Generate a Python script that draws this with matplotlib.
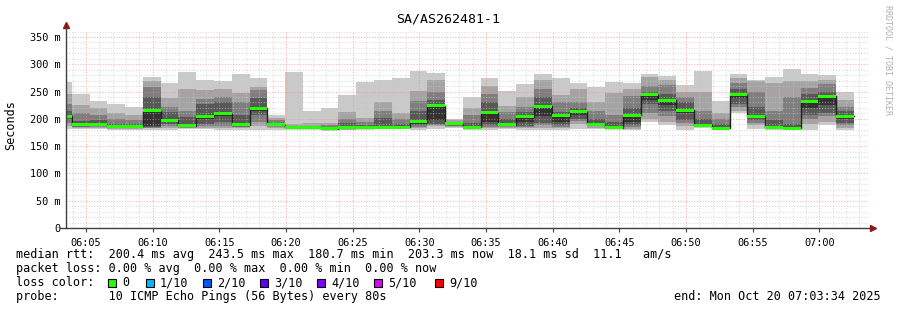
import matplotlib
matplotlib.use('Agg')
import matplotlib.pyplot as plt
import matplotlib.ticker as ticker
from matplotlib.patches import Rectangle
import numpy as np

# smokeping detail graph, 10 pings every 80 s
first_start = 2.6          # minutes after 06:00 of the first (clipped) interval
step = 80 / 60.0
median = [205, 189, 189, 186, 186, 215, 197, 187, 205, 209, 189, 219, 189, 184, 184,
          182, 184, 184, 185, 185, 195, 224, 191, 185, 211, 189, 204, 223, 206, 213,
          190, 184, 207, 244, 234, 216, 188, 183, 244, 205, 185, 183, 231, 241, 205]
pings = [
    [182, 186, 192, 200, 203, 207, 215, 228, 245, 268],
    [181, 183, 185, 187, 189, 190, 196, 211, 225, 246],
    [182, 184, 186, 188, 189, 190, 197, 207, 219, 232],
    [180, 182, 184, 185, 185, 186, 190, 200, 211, 228],
    [180, 182, 184, 185, 185, 186, 191, 198, 207, 222],
    [179, 183, 184, 185, 186, 215, 240, 258, 269, 277],
    [180, 184, 186, 190, 196, 199, 213, 221, 239, 266],
    [181, 183, 185, 186, 187, 190, 203, 215, 255, 285],
    [182, 184, 186, 190, 200, 207, 228, 236, 253, 271],
    [179, 183, 187, 195, 205, 212, 231, 240, 254, 270],
    [180, 183, 185, 187, 189, 191, 207, 230, 247, 282],
    [179, 186, 195, 207, 215, 220, 238, 252, 259, 274],
    [180, 183, 186, 188, 189, 190, 193, 198, 202, 207],
    [181, 182, 183, 183, 184, 184, 185, 186, 190, 285],
    [181, 182, 183, 183, 184, 184, 185, 187, 192, 214],
    [179, 180, 181, 181, 182, 182, 184, 188, 193, 219],
    [180, 181, 182, 183, 184, 185, 192, 200, 213, 244],
    [181, 182, 183, 184, 184, 185, 188, 195, 202, 268],
    [181, 182, 183, 184, 185, 186, 202, 214, 230, 271],
    [181, 182, 183, 184, 184, 185, 190, 200, 210, 274],
    [180, 183, 185, 188, 190, 196, 215, 232, 251, 288],
    [182, 186, 189, 191, 197, 224, 235, 249, 271, 284],
    [183, 185, 187, 188, 190, 191, 193, 195, 197, 200],
    [180, 182, 183, 184, 184, 185, 192, 207, 220, 240],
    [180, 183, 185, 188, 195, 211, 231, 246, 260, 275],
    [182, 184, 186, 187, 188, 190, 200, 212, 224, 251],
    [180, 183, 185, 187, 195, 205, 213, 222, 240, 263],
    [180, 184, 188, 192, 205, 223, 240, 255, 271, 282],
    [180, 183, 185, 188, 195, 207, 213, 231, 243, 275],
    [182, 190, 196, 200, 207, 213, 220, 230, 255, 265],
    [182, 184, 186, 188, 189, 191, 200, 215, 230, 258],
    [181, 182, 183, 184, 184, 185, 195, 207, 247, 268],
    [179, 182, 185, 188, 195, 207, 220, 241, 254, 266],
    [194, 200, 210, 228, 235, 244, 250, 260, 276, 282],
    [189, 195, 205, 215, 225, 234, 245, 262, 272, 279],
    [180, 186, 192, 197, 210, 217, 231, 240, 250, 262],
    [183, 185, 186, 187, 188, 190, 200, 215, 249, 288],
    [181, 182, 183, 183, 183, 185, 190, 200, 210, 232],
    [210, 215, 222, 228, 238, 244, 255, 265, 275, 282],
    [182, 188, 193, 197, 202, 206, 222, 249, 269, 272],
    [179, 182, 184, 185, 185, 186, 197, 214, 265, 277],
    [181, 182, 183, 183, 183, 185, 190, 240, 270, 291],
    [180, 190, 200, 207, 220, 231, 245, 257, 270, 283],
    [188, 195, 205, 210, 225, 241, 250, 264, 271, 281],
    [179, 183, 188, 192, 200, 206, 215, 222, 235, 249],
]
loss_labels = ['0', '1/10', '2/10', '3/10', '4/10', '5/10', '9/10']
loss_colors = ['#26ff00', '#00b8ff', '#0059ff', '#5e00ff', '#7e00ff', '#dd00ff', '#ff0000']

W, H = 897, 310
mono = 'DejaVu Sans Mono'
fig = plt.figure(figsize=(W / 100, H / 100), dpi=100)
fig.patch.set_facecolor('white')
ax = fig.add_axes([66 / W, (H - 228) / H, (868 - 66) / W, (228 - 31) / H])
ax.set_facecolor('white')

starts = first_start + step * np.arange(len(median))
p = np.array(pings, dtype=float)
med = np.array(median, dtype=float)

# smoke: outer pair lightest, inner pair darkest
half = 5
for ibot in range(half):
    g = int(190 / half * (half - ibot - 1)) + 50
    col = '#%02x%02x%02x' % (g, g, g)
    ax.bar(starts, p[:, 9 - ibot] - p[:, ibot], bottom=p[:, ibot], width=step,
           align='edge', color=col, linewidth=0, zorder=1)

# median line + loss colour band
edges = np.append(starts, starts[-1] + step)
ax.step(edges, np.append(med, med[-1]), where='post', color='#202020', lw=1.0, zorder=3)
sw = 1.5 * 361 / 197.0
ax.bar(starts, 2 * sw, bottom=med - sw, width=step, align='edge',
       color=loss_colors[0], linewidth=0, zorder=4)

ax.set_xlim(3.5, 3.5 + 802 / 13.3333)
ax.set_ylim(0, 361)

ax.xaxis.set_major_locator(ticker.MultipleLocator(5))
ax.xaxis.set_minor_locator(ticker.MultipleLocator(1))
ax.yaxis.set_major_locator(ticker.MultipleLocator(50))
ax.yaxis.set_minor_locator(ticker.MultipleLocator(10))
ax.xaxis.set_major_formatter(ticker.FuncFormatter(
    lambda m, pos: '%02d:%02d' % (6 + int(round(m)) // 60, int(round(m)) % 60)))
ax.yaxis.set_major_formatter(ticker.FuncFormatter(lambda v, pos: '%d m' % v if v else '0'))

ax.set_axisbelow(False)
ax.grid(which='minor', color='#c8c8c8', linestyle=(0, (1, 1.5)), linewidth=0.8, alpha=0.6)
ax.grid(which='major', color='#ff8080', linestyle=(0, (1, 1.5)), linewidth=0.8, alpha=0.6)
for gl in ax.get_xgridlines() + ax.get_ygridlines():
    gl.set_zorder(2.5)

ax.tick_params(which='both', length=0, labelsize=7.4, pad=4)
ax.tick_params(axis='x', which='major', length=3, direction='out', color='#404040')
for lab in ax.get_xticklabels() + ax.get_yticklabels():
    lab.set_family(mono)
for s in ax.spines.values():
    s.set_visible(False)

# axes with arrows
ax.plot([0, 0], [0, 1.03], transform=ax.transAxes, color='#404040', lw=1, clip_on=False, zorder=5)
ax.plot([-0.008, 1.005], [0, 0], transform=ax.transAxes, color='#404040', lw=1, clip_on=False, zorder=5)
ax.plot([0], [1.03], marker='^', ms=5, color='#8b1a1a', transform=ax.transAxes, clip_on=False, zorder=6)
ax.plot([1.006], [0], marker='>', ms=5, color='#8b1a1a', transform=ax.transAxes, clip_on=False, zorder=6)

def ftext(x, y, s, **kw):
    kw.setdefault('family', mono)
    kw.setdefault('size', 8.5)
    kw.setdefault('va', 'center')
    fig.text(x / W, 1 - y / H, s, **kw)

ftext(448, 19, 'SA/AS262481-1', ha='center', size=9.5)
ftext(11, 125, 'Seconds', ha='center', rotation=90)
ftext(888, 5, 'RRDTOOL / TOBI OETIKER', ha='center', va='top', rotation=270,
      size=6, color='#b0b0b0')

ftext(16, 254.5, 'median rtt:  200.4 ms avg  243.5 ms max  180.7 ms min  '
      '203.3 ms now  18.1 ms sd  11.1   am/s')
ftext(16, 268.5, 'packet loss: 0.00 % avg  0.00 % max  0.00 % min  0.00 % now')
ftext(16, 282.5, 'loss color:')
box_x = [108, 146, 203, 260, 317, 374, 435]
for bx, lab, col in zip(box_x, loss_labels, loss_colors):
    fig.patches.append(Rectangle((bx / W, 1 - 286.5 / H), 8 / W, 8 / H,
                                 transform=fig.transFigure, facecolor=col,
                                 edgecolor='black', linewidth=0.8))
    ftext(bx + 14, 282.5, lab)
ftext(16, 296.5, 'probe:       10 ICMP Echo Pings (56 Bytes) every 80s')
ftext(881, 296.5, 'end: Mon Oct 20 07:03:34 2025', ha='right')

fig.savefig('out.png', dpi=100, facecolor='white')
